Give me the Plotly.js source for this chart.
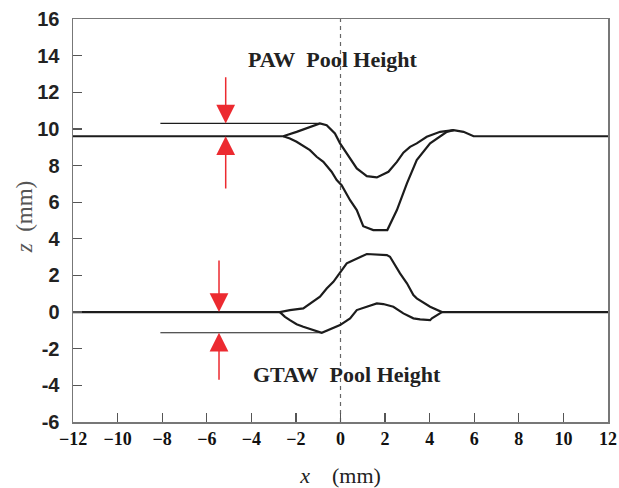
<!DOCTYPE html>
<html>
<head>
<meta charset="utf-8">
<script src="https://cdn.plot.ly/plotly-3.0.1.min.js"></script>
<style>html,body{margin:0;padding:0;background:#fff;}#chart{width:619px;height:488px;}</style>
</head>
<body>
<div id="chart"></div>
<script>
// PAW surface (upper curve, includes flat baseline)
const pawTopX = [-12, -2.57, -1.97, -1.37, -0.92, -0.62, -0.25, -0.02, 0.43, 0.73, 1.02, 1.18, 1.63, 2.15, 2.53, 2.82, 3.12, 3.42, 3.87, 4.47, 5.07, 5.52, 5.97, 12];
const pawTopZ = [9.6, 9.6, 9.84, 10.1, 10.3, 10.2, 9.75, 9.21, 8.39, 7.84, 7.57, 7.42, 7.35, 7.66, 8.2, 8.7, 9.02, 9.21, 9.57, 9.84, 9.93, 9.84, 9.6, 9.6];
// PAW pool bottom (lower curve)
const pawBotX = [-2.57, -2.27, -1.97, -1.37, -1.07, -0.77, -0.4, -0.17, 0.05, 0.43, 0.73, 1.02, 1.47, 2.1, 2.53, 2.98, 3.42, 4.02, 4.77, 5.07];
const pawBotZ = [9.6, 9.48, 9.3, 8.84, 8.48, 8.2, 7.66, 7.21, 6.93, 6.11, 5.57, 4.69, 4.48, 4.48, 5.57, 7.03, 8.3, 9.21, 9.84, 9.93];
// GTAW upper curve (includes flat baseline)
const gtawTopX = [-12, -2.72, -2.27, -1.67, -0.92, -0.62, -0.32, 0.28, 0.43, 0.73, 1.18, 2.08, 2.22, 2.67, 2.98, 3.27, 3.42, 4.02, 4.32, 4.55, 12];
const gtawTopZ = [0, 0, 0.11, 0.2, 0.84, 1.29, 1.65, 2.66, 2.75, 2.93, 3.17, 3.11, 3.02, 2.11, 1.57, 0.93, 0.75, 0.29, 0.11, 0, 0];
// GTAW lower curve
const gtawBotX = [-2.72, -2.49, -2.27, -1.97, -1.67, -1.22, -0.84, -0.02, 0.43, 0.73, 1.18, 1.63, 1.92, 2.37, 2.82, 3.27, 3.57, 4.02, 4.1, 4.55];
const gtawBotZ = [0, -0.26, -0.44, -0.66, -0.8, -0.98, -1.13, -0.71, -0.34, 0.11, 0.29, 0.47, 0.44, 0.29, -0.07, -0.34, -0.4, -0.44, -0.34, 0];
// Pool height reference lines
const pawRefX = [-8.08, -0.92];
const pawRefZ = [10.3, 10.3];
const gtawRefX = [-8.08, -0.84];
const gtawRefZ = [-1.13, -1.13];
// Centre line
const centreX = [0, 0];
const centreZ = [-6, 16];
// Arrows: tip x, tip z, tail z
const arrowX = [-5.15, -5.15, -5.45, -5.45];
const arrowTipZ = [10.3, 9.6, 0, -1.13];
const arrowTailZ = [12.9, 6.66, 2.9, -3.77];
// Labels
const labelText = ["PAW\u00A0\u00A0Pool Height", "GTAW\u00A0\u00A0Pool Height"];
const labelX = [-0.35, 0.3];
const labelZ = [13.8, -3.4];
// Ticks
const xTickVals = [-12, -10, -8, -6, -4, -2, 0, 2, 4, 6, 8, 10, 12];
const xTickText = ["\u221212", "\u221210", "\u22128", "\u22126", "\u22124", "\u22122", "0", "2", "4", "6", "8", "10", "12"];
const yTickVals = [-6, -4, -2, 0, 2, 4, 6, 8, 10, 12, 14, 16];
const yTickText = ["-6", "-4", "-2", "0", "2", "4", "6", "8", "10", "12", "14", "16"];

const black = '#1c1c1c';
const red = '#ec2a30';
const serif = 'Liberation Serif, Times New Roman, serif';
const sans = 'Liberation Sans, Arial, sans-serif';

const traces = [
  {x: centreX, y: centreZ, mode: 'lines', line: {color: '#666', width: 1.2, dash: '4px,4px'}, hoverinfo: 'skip'},
  {x: pawRefX, y: pawRefZ, mode: 'lines', line: {color: black, width: 1.1}},
  {x: gtawRefX, y: gtawRefZ, mode: 'lines', line: {color: black, width: 1.1}},
  {x: pawTopX, y: pawTopZ, mode: 'lines', line: {color: black, width: 2.2}},
  {x: pawBotX, y: pawBotZ, mode: 'lines', line: {color: black, width: 2.2}},
  {x: gtawTopX, y: gtawTopZ, mode: 'lines', line: {color: black, width: 2.2}},
  {x: gtawBotX, y: gtawBotZ, mode: 'lines', line: {color: black, width: 2.2}}
];

const annotations = [];
for (let i = 0; i < arrowX.length; i++) {
  annotations.push({
    x: arrowX[i], y: arrowTipZ[i], ax: arrowX[i], ay: arrowTailZ[i],
    xref: 'x', yref: 'y', axref: 'x', ayref: 'y',
    text: '', showarrow: true, arrowhead: 2, arrowsize: 2.5, arrowwidth: 1.5,
    arrowcolor: red, standoff: 0, startstandoff: 0
  });
}
for (let i = 0; i < labelText.length; i++) {
  annotations.push({
    x: labelX[i], y: labelZ[i], xref: 'x', yref: 'y', text: '<b>' + labelText[i] + '</b>',
    showarrow: false, font: {family: serif, size: 22, color: '#222'}
  });
}
// y-axis title placed as rotated text
annotations.push({
  x: -0.09, y: 0.51, xref: 'paper', yref: 'paper', text: '<i>z</i>\u00A0\u00A0(mm)',
  textangle: -90, showarrow: false, xanchor: 'center', yanchor: 'middle',
  font: {family: serif, size: 23, color: '#555'}
});

const layout = {
  width: 619, height: 488,
  margin: {l: 73, r: 11, t: 19, b: 66},
  paper_bgcolor: '#fff', plot_bgcolor: '#fff',
  showlegend: false,
  xaxis: {
    range: [-12, 12], tickvals: xTickVals, ticktext: xTickText.map(t => '<b>' + t + '</b>'),
    ticks: 'inside', ticklen: 9, tickwidth: 1.2, tickcolor: '#555',
    showline: true, mirror: true, linecolor: '#777', linewidth: 1.5,
    showgrid: false, zeroline: false,
    tickfont: {family: serif, size: 18, color: '#111'},
    title: {text: '<i>x</i>\u00A0\u00A0\u00A0\u00A0(mm)', font: {family: serif, size: 22, color: '#222'}, standoff: 20}
  },
  yaxis: {
    range: [-6, 16], tickvals: yTickVals, ticktext: yTickText.map(t => '<b>' + t + '</b>'),
    ticks: 'inside', ticklen: 9, tickwidth: 1.2, tickcolor: '#555',
    showline: true, mirror: true, linecolor: '#777', linewidth: 1.5,
    showgrid: false, zeroline: false,
    tickfont: {family: sans, size: 20, color: '#222'},
    ticklabelstandoff: 8
  },
  annotations: annotations
};

Plotly.newPlot('chart', traces, layout, {displayModeBar: false, staticPlot: true});
</script>
</body>
</html>
